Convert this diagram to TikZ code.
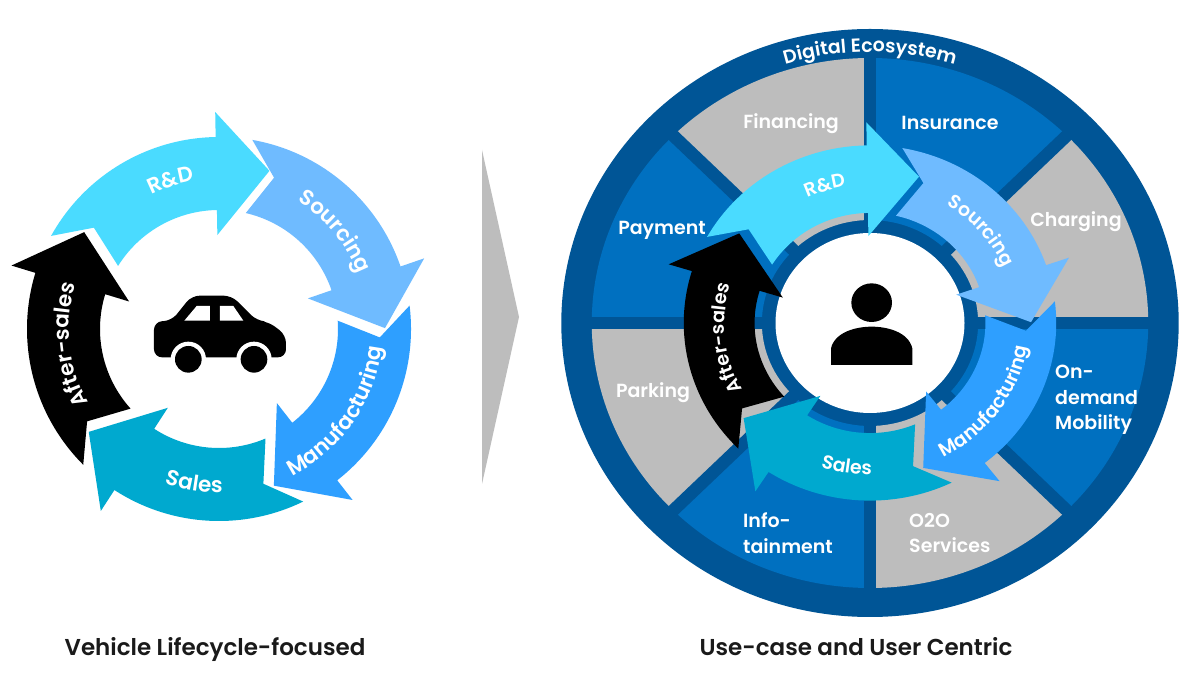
\documentclass[tikz,border=0pt]{standalone}
\usepackage{fontspec}
\setmainfont{Poppins}[BoldFont={Poppins SemiBold}]
\usetikzlibrary{decorations.text}
\definecolor{rdblue}{HTML}{4ADBFF}
\definecolor{sourcingblue}{HTML}{6FBBFF}
\definecolor{manufblue}{HTML}{2E9FFF}
\definecolor{salesblue}{HTML}{00A9CF}
\definecolor{ringblue}{HTML}{005596}
\definecolor{sectorblue}{HTML}{0070C0}
\definecolor{sectorgray}{HTML}{BDBDBD}
\definecolor{captiongray}{HTML}{1A1A1A}
\tikzset{sectorlabel/.style = {text=white, font=\fontsize{19}{25.5}\selectfont\bfseries, align=left},
         caption/.style = {text=captiongray, anchor=base, font=\fontsize{23}{26}\selectfont\bfseries}}
% colour, turn of the tail, turn of the head
\newcommand{\lifearrow}[3]{
  \fill [#1] (151+#2:192) arc [start angle=151+#2, end angle=90+#3, radius=192]
    -- (90+#3:217) -- (71.3+#3:166) -- (90+#3:94) -- (90+#3:119)
    arc [start angle=90+#3, end angle=148+#2, radius=119]
    -- (141+#2:161) -- cycle;
}
% text, radius, start angle, end angle
\newcommand{\arclabel}[4]{
  \path [decorate, decoration={text along path, text align=center,
         text={|\color{white}\arcfont|#1}}]
    (#3:#2) arc [start angle=#3, end angle=#4, radius=#2];
}
\newcommand{\lifecycle}{
  \lifearrow{rdblue}{0}{1}
  \lifearrow{sourcingblue}{-71}{-71}
  \lifearrow{manufblue}{-144}{-142}
  \lifearrow{salesblue}{-215}{-213}
  \lifearrow{black}{74}{73}
  \arclabel{R{\&}D}{150}{163}{53}
  \arclabel{Sourcing}{150}{95}{-15}
  \arclabel{Manufacturing}{164}{-95}{25}
  \arclabel{Sales}{164}{-154}{-44}
  \arclabel{After-sales}{150}{241}{131}
}
\begin{document}
\begin{tikzpicture}[x=1pt, y=1pt]
  \useasboundingbox [fill=white] (0, 0) rectangle (1200, 680);

  % vehicle side
  \begin{scope}[shift={(219, 351)}]
    \newcommand{\arcfont}{\fontsize{21.5}{21.5}\selectfont\bfseries}
    \lifecycle
  \end{scope}
  \begin{scope}[shift={(0, 580)}, scale=1/3, yscale=-1]
    \fill [black, rounded corners=8] (462, 772) -- (462, 665) -- (515, 662) -- (575, 587)
      -- (695, 587) -- (770, 662) -- (805, 665) -- (858, 705) -- (858, 772) -- cycle;
    \fill [white] (565, 778) circle [radius=53] (762, 778) circle [radius=53];
    \fill [black] (565, 778) circle [radius=40] (762, 778) circle [radius=40];
    \fill [white] (553, 662) -- (590, 618) -- (630, 618) -- (630, 662) -- cycle;
    \fill [white] (660, 618) -- (700, 618) -- (730, 662) -- (660, 662) -- cycle;
  \end{scope}

  \fill [sectorgray] (482, 530) -- (519, 363) -- (482, 196) -- cycle;

  % user side
  \begin{scope}[shift={(870, 357)}, xscale=1.05]
    \fill [ringblue] (0, 0) circle [radius=294];
    \foreach \a/\c in {0/sectorgray, 45/sectorblue, 90/sectorgray, 135/sectorblue,
                       180/sectorgray, 225/sectorblue, 270/sectorgray, 315/sectorblue} {
      \fill [\c] (\a:265) arc [start angle=\a, end angle=\a+45, radius=265]
        -- (\a+45:103) arc [start angle=\a+45, end angle=\a, radius=103] -- cycle;
    }
    \foreach \a in {0, 45, ..., 315} {
      \draw [ringblue, line width=12.5] (\a:95) -- (\a:275);
    }
    \newcommand{\arcfont}{\fontsize{19}{19}\selectfont\bfseries}
    \arclabel{Digital Ecosystem}{271}{125}{55}
    \fill [white] (0, 0) circle [radius=90];
  \end{scope}
  \begin{scope}[shift={(870, 357)}, xscale=0.97, yscale=0.925]
    \newcommand{\arcfont}{\fontsize{19}{19}\selectfont\bfseries}
    \lifecycle
  \end{scope}
  \begin{scope}[shift={(660, 570)}, scale=1/3, yscale=-1]
    \fill [black] (635, 578) ellipse [x radius=61, y radius=58];
    \fill [black] (513, 765) -- (513, 715) .. controls (525, 665) and (590, 650) .. (635, 650)
      .. controls (680, 650) and (745, 665) .. (757, 715) -- (757, 765) -- cycle;
  \end{scope}

  \node [sectorlabel] (financing) at (791, 556) {Financing};
  \node [sectorlabel] (insurance) at (950, 557) {Insurance};
  \node [sectorlabel] (charging) at (1076, 458) {Charging};
  \node [sectorlabel] (payment) at (662, 450) {Payment};
  \node [sectorlabel] (parking) at (653, 287) {Parking};
  \node [sectorlabel, anchor=west, inner sep=0] (mobility) at (1055, 280) {On-\\demand\\Mobility};
  \node [sectorlabel, anchor=west, inner sep=0] (infotainment) at (743, 147) {Info-\\tainment};
  \node [sectorlabel, anchor=west, inner sep=0] (services) at (909, 147) {O2O\\Services};

  \node [caption] (vehiclecaption) at (215, 24) {Vehicle Lifecycle-focused};
  \node [caption] (usercaption) at (856, 24) {Use-case and User Centric};
\end{tikzpicture}
\end{document}
